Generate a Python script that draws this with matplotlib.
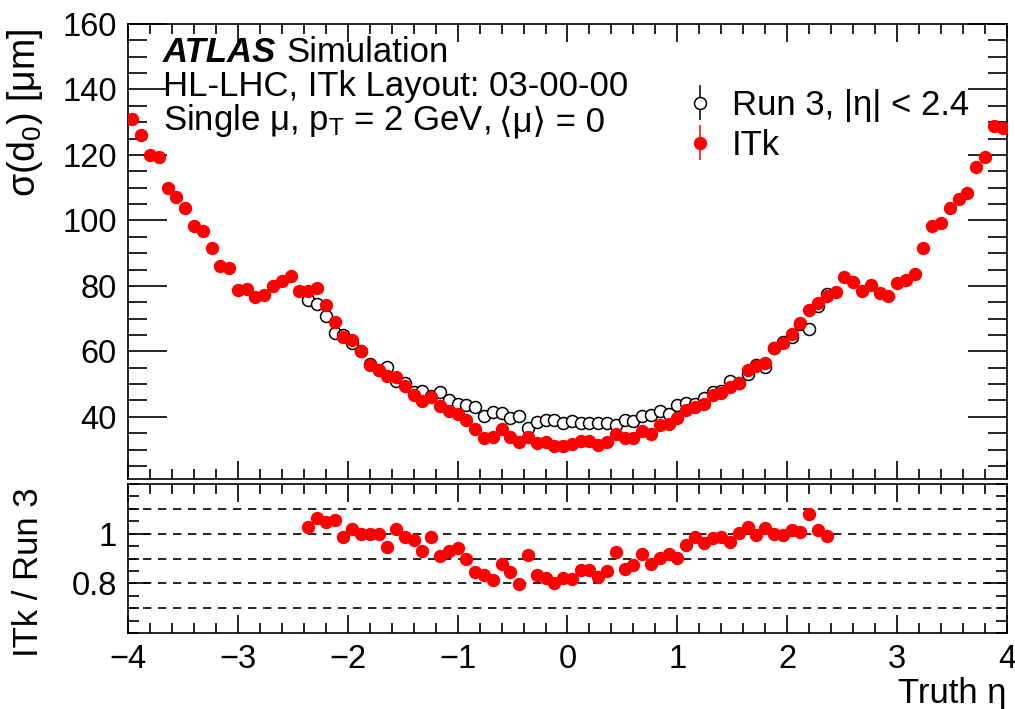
import numpy as np
import matplotlib
matplotlib.use('Agg')
import matplotlib.pyplot as plt
from matplotlib.ticker import MultipleLocator, FixedLocator

plt.rcParams['font.family'] = ['Liberation Sans', 'DejaVu Sans']
plt.rcParams['mathtext.fontset'] = 'custom'
plt.rcParams['mathtext.rm'] = 'Liberation Sans'
plt.rcParams['mathtext.it'] = 'Liberation Sans:italic'

# eta bin centres (0.08 wide bins from -4 to 4)
eta_itk = np.round(np.arange(-3.96, 4.0, 0.08), 2)
eta_run3 = np.round(np.arange(-2.36, 2.4, 0.08), 2)

# sigma(d0) [um] for ITk
sig_itk = [131.0, 126.1, 120.0, 119.3, 110.0, 107.3, 103.9, 98.3, 96.9, 91.5,
           86.1, 85.4, 78.7, 79.0, 76.7, 77.3, 80.0, 81.6, 83.1, 78.3,
           78.3, 79.3, 74.2, 69.1, 64.5, 63.5, 60.0, 55.9, 54.4, 52.5,
           52.3, 49.3, 46.7, 44.7, 45.9, 43.4, 41.9, 40.9, 39.1, 36.3,
           33.5, 33.7, 36.2, 33.7, 32.2, 33.7, 32.0, 32.3, 31.2, 31.2,
           31.8, 32.7, 32.5, 31.5, 32.2, 34.7, 33.5, 33.5, 35.8, 34.8,
           37.6, 37.9, 39.6, 42.1, 43.1, 44.0, 46.7, 47.2, 49.1, 50.3,
           54.4, 55.4, 56.4, 61.0, 62.5, 65.3, 68.6, 72.5, 74.8, 76.8,
           78.1, 82.6, 81.1, 78.5, 80.3, 77.8, 77.0, 80.8, 81.8, 83.7,
           91.5, 98.4, 99.3, 103.9, 106.5, 108.5, 116.4, 119.3, 128.9, 128.3]

# sigma(d0) [um] for Run 3, |eta| < 2.4
sig_run3 = [75.7, 74.4, 70.8, 65.6, 65.0, 62.5, 60.0, 56.0, 54.4, 55.2,
            51.0, 50.3, 47.7, 48.0, 46.5, 47.7, 45.2, 43.8, 43.7, 43.0,
            40.1, 41.4, 41.1, 39.6, 40.1, 36.6, 38.5, 39.1, 39.0, 38.1,
            38.6, 38.1, 38.1, 38.1, 38.1, 37.6, 39.1, 38.6, 40.1, 40.4,
            41.9, 40.9, 43.7, 44.2, 43.8, 45.7, 47.7, 48.0, 50.8, 50.3,
            53.0, 55.7, 55.2, 61.0, 62.8, 64.5, 68.2, 66.8, 74.0, 77.6]

# ITk / Run 3
ratio = [1.028, 1.065, 1.045, 1.055, 0.985, 1.017, 1.000, 1.000, 1.000, 0.948,
         1.020, 0.987, 0.975, 0.932, 0.985, 0.911, 0.932, 0.941, 0.896, 0.846,
         0.833, 0.815, 0.879, 0.846, 0.798, 0.915, 0.835, 0.821, 0.802, 0.822,
         0.817, 0.852, 0.855, 0.826, 0.849, 0.928, 0.857, 0.875, 0.917, 0.879,
         0.901, 0.917, 0.901, 0.953, 0.986, 0.961, 0.981, 0.988, 0.968, 1.004,
         1.025, 0.995, 1.021, 1.000, 0.995, 1.015, 1.005, 1.081, 1.015, 0.991]

ratio_lines = [0.7, 0.8, 0.9, 1.0, 1.1]

W, H = 1015, 709
fig = plt.figure(figsize=(W / 100, H / 100), dpi=100)
ax = fig.add_axes([128 / W, 1 - 479 / H, 879 / W, 455 / H])
rax = fig.add_axes([128 / W, 1 - 633 / H, 879 / W, 149 / H])

fs = 25
ms = 8.6

ax.plot(eta_run3, sig_run3, 'o', mfc='white', mec='black', mew=1.1, ms=ms, zorder=2)
ax.plot(eta_itk, sig_itk, 'o', color='red', ms=ms, zorder=3)
rax.plot(eta_run3, ratio, 'o', color='red', ms=ms, zorder=3)
for r in ratio_lines:
    rax.axhline(r, color='black', lw=1.2, ls=(0, (5, 4)), zorder=1)

ax.set_xlim(-4, 4)
ax.set_ylim(21, 160)
rax.set_xlim(-4, 4)
rax.set_ylim(0.6, 1.2)

for a in (ax, rax):
    a.xaxis.set_major_locator(MultipleLocator(1))
    a.xaxis.set_minor_locator(MultipleLocator(0.2))
    a.tick_params(which='both', direction='in', top=True, right=True,
                  labelsize=23.5, width=1.2, pad=8)
    a.tick_params(axis='x', which='major', length=13)
    a.tick_params(axis='x', which='minor', length=7)
    for s in a.spines.values():
        s.set_linewidth(1.2)

ax.yaxis.set_major_locator(FixedLocator([40, 60, 80, 100, 120, 140, 160]))
ax.yaxis.set_minor_locator(MultipleLocator(5))
ax.tick_params(axis='y', which='major', length=28)
ax.tick_params(axis='y', which='minor', length=14)
ax.tick_params(axis='x', labelbottom=False)

rax.yaxis.set_major_locator(FixedLocator([0.8, 1.0]))
rax.yaxis.set_minor_locator(MultipleLocator(0.05))
rax.set_yticklabels(['0.8', '1'])
rax.tick_params(axis='y', which='major', length=16)
rax.tick_params(axis='y', which='minor', length=8)

ax.set_ylabel('σ(d$_\\mathregular{0}$) [μm]', fontsize=27, loc='top')
ax.yaxis.set_label_coords(-0.094, 0.99)
rax.set_ylabel('ITk / Run 3', fontsize=fs)
rax.yaxis.set_label_coords(-0.094, 0.41)
rax.set_xlabel('Truth η', fontsize=fs, loc='right', labelpad=1)

t = fig.text(163 / W, 1 - 62 / H, 'ATLAS', fontsize=fs, weight='bold', style='italic')
ax.annotate('Simulation', xy=(1, 0), xycoords=t, xytext=(7, 0),
            textcoords='offset points', fontsize=fs, va='bottom')
fig.text(163 / W, 1 - 96 / H, 'HL-LHC, ITk Layout: 03-00-00', fontsize=fs)
t3 = fig.text(163 / W, 1 - 130 / H, 'Single μ, p$_\\mathregular{T}$ = 2 GeV,', fontsize=fs)
ax.annotate('⟨μ⟩ = 0', xy=(1, 0), xycoords=t3, xytext=(6, 0),
            textcoords='offset points', fontsize=fs, va='bottom',
            family=['Liberation Sans', 'DejaVu Sans'])

h1 = ax.errorbar([np.nan], [np.nan], yerr=[1], fmt='o', mfc='white', mec='black',
                 mew=1.1, ms=ms, ecolor='black', elinewidth=1.1)
h2 = ax.errorbar([np.nan], [np.nan], yerr=[1], fmt='o', color='red', ms=ms,
                 ecolor='red', elinewidth=1.1)
ax.legend([h1, h2], ['Run 3, |η| < 2.4', 'ITk'], loc='upper left',
          bbox_to_anchor=(683 / W, 1 - 89 / H), bbox_transform=fig.transFigure,
          frameon=False, fontsize=fs, handlelength=1.0, handletextpad=0.4,
          labelspacing=0.2, borderpad=0, borderaxespad=0)

fig.savefig('out.png', dpi=100)
